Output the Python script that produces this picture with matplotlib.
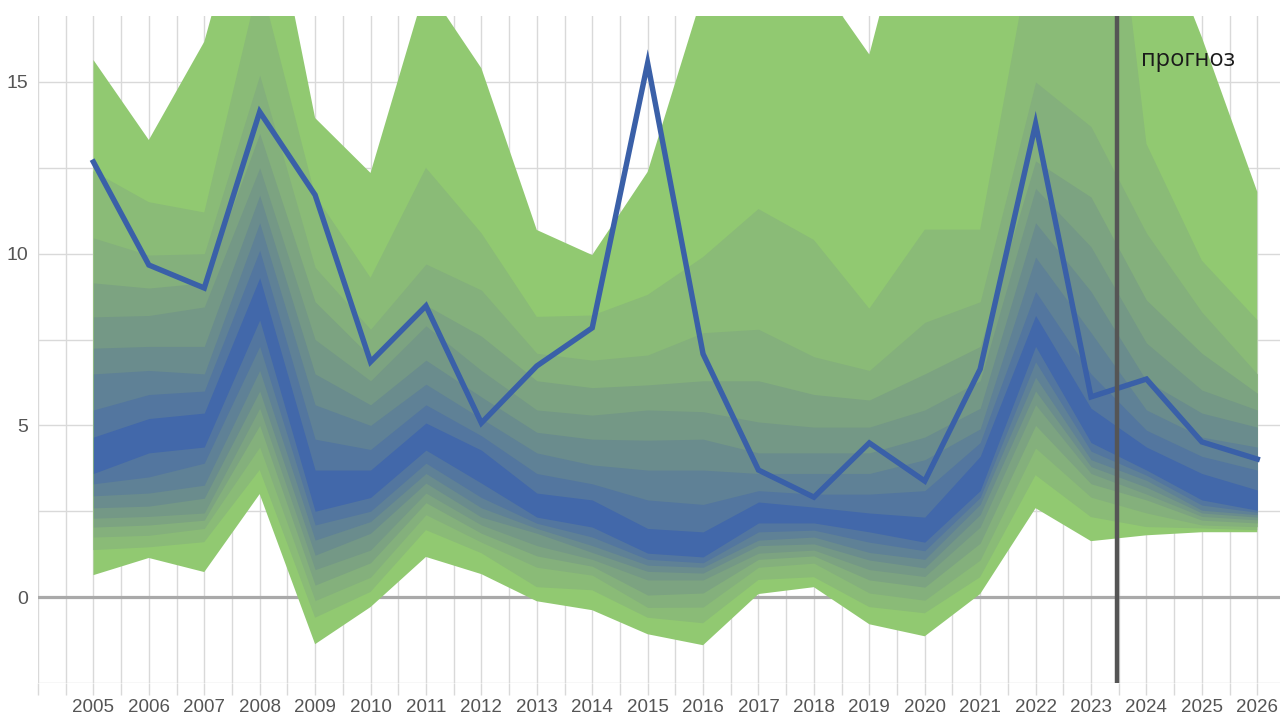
import matplotlib
matplotlib.use("Agg")
import matplotlib.pyplot as plt
from matplotlib.ticker import MultipleLocator, FixedLocator

years = list(range(2005, 2027))
year_labels = [str(y) for y in years]

# actual / forecast path
actual = [12.67, 9.67, 9.0, 14.13, 11.71, 6.85, 8.48, 5.07, 6.73, 7.84, 15.55, 7.08,
          3.70, 2.91, 4.49, 3.38, 6.64, 13.78, 5.83, 6.35, 4.52, 4.02]

# fan bands: upper bounds (outer -> inner)
hi_0 = [15.64, 13.31, 16.17, 22, 13.95, 12.35, 17.8, 15.4, 10.69, 9.96, 12.38, 17.6, 21, 18.1, 15.8, 22, 24, 30, 35, 20.4, 16.3, 11.8]
hi_1 = [12.4, 11.5, 11.2, 18, 11.7, 9.3, 12.5, 10.6, 8.16, 8.2, 8.8, 9.9, 11.3, 10.4, 8.4, 10.7, 10.7, 19.5, 27, 13.2, 9.8, 8.07]
hi_2 = [10.46, 9.96, 10.0, 15.2, 9.6, 7.8, 9.7, 8.94, 7.1, 6.9, 7.05, 7.7, 7.8, 7.0, 6.6, 8.0, 8.6, 15.0, 13.7, 10.6, 8.3, 6.5]
hi_3 = [9.15, 9.0, 9.15, 13.5, 8.6, 7.0, 8.5, 7.6, 6.3, 6.1, 6.18, 6.3, 6.3, 5.9, 5.74, 6.5, 7.3, 12.7, 11.65, 8.65, 7.1, 5.94]
hi_4 = [8.16, 8.2, 8.45, 12.5, 7.5, 6.3, 7.9, 6.6, 5.45, 5.3, 5.45, 5.4, 5.1, 4.95, 4.95, 5.45, 6.3, 11.9, 10.2, 7.4, 6.03, 5.45]
hi_5 = [7.25, 7.3, 7.3, 11.7, 6.5, 5.6, 6.9, 5.83, 4.8, 4.6, 4.57, 4.6, 4.2, 4.2, 4.2, 4.66, 5.5, 10.9, 8.9, 6.3, 5.36, 4.95]
hi_6 = [6.5, 6.6, 6.5, 10.9, 5.6, 5.0, 6.2, 5.2, 4.2, 3.85, 3.7, 3.7, 3.6, 3.6, 3.6, 4.0, 4.9, 9.9, 7.7, 5.45, 4.66, 4.37]
hi_7 = [5.45, 5.9, 6.0, 10.1, 4.6, 4.3, 5.6, 4.7, 3.6, 3.3, 2.83, 2.7, 3.1, 3.0, 3.0, 3.1, 4.5, 8.9, 6.5, 4.86, 4.1, 3.7]
hi_8 = [4.66, 5.2, 5.36, 9.3, 3.7, 3.7, 5.07, 4.28, 3.03, 2.83, 2.0, 1.9, 2.77, 2.62, 2.45, 2.33, 4.1, 8.2, 5.5, 4.37, 3.6, 3.12]

# fan bands: lower bounds (outer -> inner)
lo_0 = [0.64, 1.14, 0.73, 3.0, -1.37, -0.29, 1.17, 0.67, -0.12, -0.38, -1.08, -1.40, 0.09, 0.29, -0.79, -1.14, 0.09, 2.59, 1.63, 1.8, 1.89, 1.89]
lo_1 = [1.37, 1.45, 1.6, 3.7, -0.6, 0.15, 1.95, 1.28, 0.29, 0.2, -0.6, -0.76, 0.5, 0.58, -0.29, -0.47, 0.58, 3.55, 2.33, 2.04, 2.0, 1.95]
lo_2 = [1.75, 1.8, 2.0, 4.37, -0.1, 0.58, 2.4, 1.6, 0.87, 0.64, -0.3, -0.29, 0.87, 0.99, 0.12, -0.09, 1.08, 4.34, 2.91, 2.45, 2.1, 2.05]
lo_3 = [2.04, 2.1, 2.24, 5.0, 0.35, 1.0, 2.75, 1.86, 1.2, 0.9, 0.06, 0.12, 1.1, 1.2, 0.5, 0.29, 1.57, 5.0, 3.3, 2.83, 2.24, 2.16]
lo_4 = [2.3, 2.35, 2.45, 5.5, 0.8, 1.37, 3.03, 2.1, 1.5, 1.1, 0.5, 0.5, 1.28, 1.37, 0.8, 0.6, 2.04, 5.6, 3.6, 3.0, 2.35, 2.25]
lo_5 = [2.6, 2.65, 2.88, 6.0, 1.22, 1.86, 3.32, 2.33, 1.86, 1.3, 0.75, 0.7, 1.5, 1.55, 1.08, 0.85, 2.4, 6.0, 3.8, 3.2, 2.45, 2.33]
lo_6 = [2.95, 3.03, 3.26, 6.6, 1.66, 2.2, 3.6, 2.6, 2.0, 1.5, 0.93, 0.87, 1.66, 1.75, 1.3, 1.1, 2.7, 6.4, 4.0, 3.4, 2.53, 2.4]
lo_7 = [3.3, 3.5, 3.9, 7.3, 2.1, 2.5, 3.9, 2.9, 2.15, 1.75, 1.1, 1.0, 1.9, 1.95, 1.6, 1.35, 2.9, 6.85, 4.25, 3.55, 2.68, 2.47]
lo_8 = [3.6, 4.2, 4.37, 8.07, 2.5, 2.9, 4.28, 3.32, 2.33, 2.04, 1.28, 1.17, 2.16, 2.16, 1.9, 1.6, 3.1, 7.3, 4.5, 3.7, 2.83, 2.53]

forecast_split = 2023.47
forecast_label = "прогноз"

uppers = [hi_0, hi_1, hi_2, hi_3, hi_4, hi_5, hi_6, hi_7, hi_8]
lowers = [lo_0, lo_1, lo_2, lo_3, lo_4, lo_5, lo_6, lo_7, lo_8]
band_colors = ["#91c971", "#8abb77", "#84b07c", "#7ca381", "#749886",
               "#6a8c8d", "#5f8196", "#53769f", "#4268aa"]

fig = plt.figure(figsize=(12.8, 7.16), dpi=100)
ax = fig.add_axes([38 / 1280, 1 - 683 / 716, 1 - 38 / 1280, (683 - 16) / 716])

ax.axhline(0, color="#a9a9a9", linewidth=2.3, zorder=1.5)
for lo, hi, c in zip(lowers, uppers, band_colors):
    ax.fill_between(years, lo, hi, color=c, linewidth=0, zorder=2)

ax.plot(years, actual, color="#3a60a8", linewidth=3.9, solid_joinstyle="miter", zorder=5)
ax.axvline(forecast_split, color="#555555", linewidth=3.2, zorder=6)
ax.text(2023.9, 15.65, forecast_label, fontsize=17, family=["Open Sans", "DejaVu Sans"],
        color="#1a1a1a", va="center", ha="left", zorder=7)

ax.set_xlim(2004, 2026.41)
ax.set_ylim(-2.5, 16.92)

ax.xaxis.set_major_locator(FixedLocator(years))
ax.set_xticklabels(year_labels)
ax.xaxis.set_minor_locator(MultipleLocator(0.5))
ax.yaxis.set_major_locator(FixedLocator([0, 5, 10, 15]))
ax.yaxis.set_minor_locator(MultipleLocator(2.5))

ax.grid(True, which="both", color="#d9d9d9", linewidth=1.0, zorder=0)
ax.set_axisbelow(True)
for s in ax.spines.values():
    s.set_visible(False)

ax.tick_params(axis="x", which="both", length=8.6, width=1.0, color="#d9d9d9",
               labelsize=13.5, labelcolor="#555555", pad=3)
ax.tick_params(axis="y", which="both", length=0, labelsize=14, labelcolor="#555555", pad=7)
for lab in ax.get_xticklabels() + ax.get_yticklabels():
    lab.set_family(["Liberation Sans", "DejaVu Sans"])

fig.savefig("out.png", dpi=100)
